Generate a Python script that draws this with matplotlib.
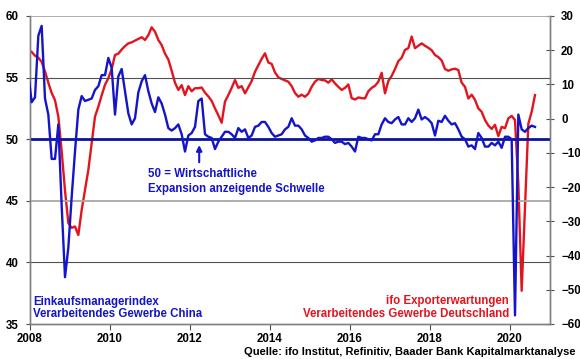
import numpy as np
import matplotlib
matplotlib.use('Agg')
import matplotlib.pyplot as plt

plt.rcParams['font.family'] = ['Liberation Sans', 'DejaVu Sans']
plt.rcParams['font.weight'] = 'bold'

# Monatsdaten Dez 2007 - Aug 2020
start_year, start_month = 2007, 12

# Einkaufsmanagerindex China (linke Achse)
pmi_china = [55.3,
             53.0, 53.4, 58.4, 59.2, 53.3, 52.0, 48.4, 48.4, 51.2, 44.6, 38.8, 41.2,
             45.3, 49.0, 52.4, 53.5, 53.1, 53.2, 53.3, 54.0, 54.3, 55.2, 55.2, 56.6,
             55.8, 52.0, 55.1, 55.7, 53.9, 52.1, 51.2, 51.7, 53.8, 54.7, 55.2, 53.9,
             52.9, 52.2, 53.4, 52.9, 52.0, 50.9, 50.7, 50.9, 51.2, 50.4, 49.0, 50.3,
             50.5, 51.0, 53.1, 53.3, 50.4, 50.2, 50.1, 49.2, 49.8, 50.2, 50.6, 50.6,
             50.4, 50.1, 50.9, 50.6, 50.8, 50.1, 50.3, 51.0, 51.1, 51.4, 51.4, 51.0,
             50.5, 50.2, 50.3, 50.4, 50.8, 51.0, 51.7, 51.1, 51.1, 50.8, 50.3, 50.1,
             49.8, 49.9, 50.1, 50.1, 50.2, 50.2, 50.0, 49.7, 49.8, 49.8, 49.6, 49.7,
             49.4, 49.0, 50.2, 50.1, 50.1, 50.0, 49.9, 50.4, 50.4, 51.2, 51.7, 51.4,
             51.3, 51.6, 51.8, 51.2, 51.2, 51.7, 51.4, 51.7, 52.4, 51.6, 51.8, 51.6,
             51.3, 50.3, 51.5, 51.4, 51.9, 51.5, 51.2, 51.3, 50.8, 50.2, 50.0, 49.4,
             49.5, 49.2, 50.5, 50.1, 49.4, 49.4, 49.7, 49.5, 49.8, 49.3, 50.2, 50.2,
             50.0, 35.7, 52.0, 50.8, 50.6, 50.9, 51.1, 51.0]

# ifo Exporterwartungen (rechte Achse)
ifo_export = [20.2,
              19.5, 18.4, 17.8, 16.6, 13.8, 10.5, 7.5, 5.4, 0.6, -9.5, -21.0, -30.5,
              -31.9, -31.5, -34.0, -26.7, -20.9, -15.0, -7.2, 0.6, 3.5, 6.8, 9.9, 11.8,
              14.5, 18.6, 19.0, 20.2, 21.2, 22.0, 22.3, 22.8, 23.3, 23.8, 23.0, 24.4,
              26.7, 25.4, 23.0, 21.5, 19.0, 17.3, 14.0, 10.5, 8.4, 9.8, 6.9, 9.5,
              8.0, 8.9, 8.9, 9.1, 7.6, 6.5, 5.2, 3.0, 1.0, -1.2, 5.0, 6.9,
              9.0, 11.3, 9.0, 9.5, 7.4, 9.2, 11.0, 13.7, 15.6, 17.5, 19.1, 16.4,
              16.0, 13.5, 12.1, 11.6, 11.2, 10.8, 9.5, 7.5, 6.4, 7.0, 6.4, 7.3,
              9.3, 10.8, 11.6, 11.3, 11.2, 10.5, 11.5, 10.3, 9.3, 8.4, 9.0, 10.0,
              6.0, 5.6, 6.2, 6.0, 5.9, 8.0, 9.0, 9.6, 10.8, 13.4, 7.4, 11.0,
              12.5, 14.5, 16.8, 17.8, 20.1, 20.6, 24.0, 20.6, 21.3, 22.0, 21.3, 20.7,
              20.0, 18.6, 18.0, 17.0, 14.5, 14.0, 14.4, 14.6, 14.2, 10.5, 9.3, 5.9,
              7.0, 5.5, 3.0, 2.0, -0.4, -2.0, -3.0, -1.8, -5.1, -2.4, -2.8, 0.1,
              0.8, -0.4, -19.0, -50.3, -26.0, -1.5, 2.0, 6.9]

left_ticks = [35, 40, 45, 50, 55, 60]
right_ticks = [-60, -50, -40, -30, -20, -10, 0, 10, 20, 30]
year_ticks = [2008, 2010, 2012, 2014, 2016, 2018, 2020]

blue = '#1414c8'
navy = '#0a1496'
red = '#e4141e'
fs = 8.3

n = len(pmi_china)
months = np.arange(n)
x = start_year + (start_month - 1 + months + 0.5) / 12

fig = plt.figure(figsize=(5.8, 3.59), dpi=100)
ax = fig.add_axes([30 / 580, 1 - 324 / 359, 520 / 580, 308 / 359])
ax2 = ax.twinx()

# Gitterlinien
for v, c, w in [(55, '#505050', 0.8), (45, '#a8a8a8', 1.3), (40, '#505050', 0.8), (60, '#a8a8a8', 1.3)]:
    ax.axhline(v, color=c, lw=w, zorder=1)
ax.axhline(50, color=navy, lw=2.0, zorder=2)

ax.plot(x, pmi_china, color=blue, lw=1.7, zorder=4)
ax2.plot(x, ifo_export, color=red, lw=1.7, zorder=3)

ax.set_xlim(2008, 2021)
ax.set_ylim(35, 60)
ax2.set_ylim(-60, 30)
ax.set_xticks(year_ticks)
ax.set_yticks(left_ticks)
ax2.set_yticks(right_ticks)

for a in (ax, ax2):
    for s in a.spines.values():
        s.set_color('#808080')
        s.set_linewidth(1.0)
    a.spines['top'].set_visible(False)
ax.tick_params(axis='x', direction='out', length=4, color='#505050', labelsize=fs, pad=2.5)
ax.tick_params(axis='y', direction='out', length=3, color='#505050', labelsize=fs, pad=5)
ax2.tick_params(axis='y', direction='inout', length=6, color='#505050', labelsize=fs, pad=5)
for lab in ax.get_xticklabels() + ax.get_yticklabels() + ax2.get_yticklabels():
    lab.set_fontweight('bold')

ax.set_zorder(2)
ax.patch.set_visible(False)
ax2.set_zorder(1)

# Beschriftungen
ax.text(0.227, 0.486, '50 = Wirtschaftliche', transform=ax.transAxes, color=blue,
        fontsize=fs, fontweight='bold', ha='left', va='center')
ax.text(0.227, 0.438, 'Expansion anzeigende Schwelle', transform=ax.transAxes, color=blue,
        fontsize=fs, fontweight='bold', ha='left', va='center')
ax.annotate('', xy=(2012.23, 49.75), xytext=(2012.23, 47.9),
            arrowprops=dict(arrowstyle='-|>', color=blue, lw=1.5, mutation_scale=8))

ax.text(0.006, 0.0724, 'Einkaufsmanagerindex', transform=ax.transAxes, color=blue,
        fontsize=fs, fontweight='bold', ha='left', va='center')
ax.text(0.006, 0.0315, 'Verarbeitendes Gewerbe China', transform=ax.transAxes, color=blue,
        fontsize=fs, fontweight='bold', ha='left', va='center')
ax.text(0.921, 0.0747, 'ifo Exporterwartungen', transform=ax.transAxes, color=red,
        fontsize=fs, fontweight='bold', ha='right', va='center')
ax.text(0.921, 0.0315, 'Verarbeitendes Gewerbe Deutschland', transform=ax.transAxes, color=red,
        fontsize=fs, fontweight='bold', ha='right', va='center')

fig.text(0.993, 1 - 352 / 359, 'Quelle: ifo Institut, Refinitiv, Baader Bank Kapitalmarktanalyse',
         fontsize=8.0, fontweight='bold', ha='right', va='center')

fig.savefig('out.png', dpi=100)
